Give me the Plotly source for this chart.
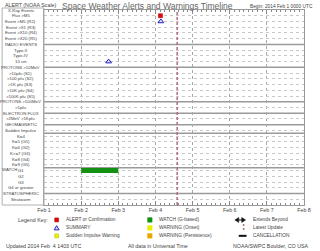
import plotly.graph_objects as go

# ---------------- data ----------------
ROW_LABELS = [
    "X-Ray Events", "Flux >M5", "Event >M5 (R2)", "Event >X1 (R3)", "Event >X10 (R4)",
    "Event >X20 (R5)", "RADIO EVENTS", "Type-II", "Type-IV", "10 cm",
    "PROTONS >10MeV", ">10pfu (S1)", ">100 pfu (S2)", ">1K pfu (S3)", ">10K pfu (S4)",
    ">100K pfu (S5)", "PROTONS >100MeV", ">1pfu", "ELECTRON FLUX", ">2MeV >1Kpfu",
    "GEOMAGNETIC", "Sudden Impulse", "K=4", "K=5 (G1)", "K=6 (G2)", "K>=7 (G3)",
    "K=8 (G4)", "K=9 (G5)", "G1", "G2", "G3", "G4 or greater", "STRATOSPHERIC", "Stratwarm",
]
HEADER_ROWS = [0, 6, 10, 16, 18, 20, 32]
SEPARATORS = [6, 10, 16, 18, 20, 21.5, 27.5, 32]
DAY_TICKS = ["2014-02-01", "2014-02-02", "2014-02-03", "2014-02-04",
             "2014-02-05", "2014-02-06", "2014-02-07", "2014-02-08"]

ALERT_TIMES = ["2014-02-04 03:15"]
ALERT_ROWS = [1]
SUMMARY_TIMES = ["2014-02-02 17:45", "2014-02-04 03:30"]
SUMMARY_ROWS = [9, 2]
WATCH_START = ["2014-02-02 00:00"]
WATCH_END = ["2014-02-03 00:00"]
WATCH_ROWS = [28]
LATEST_UPDATE = "2014-02-04 14:03"

# ---------------- geometry helpers ----------------
W, H = 320, 251
ML, MR, MT, MB = 44, 9, 9, 46
PW, PH = W - ML - MR, H - MT - MB


def px(x):
    return (x - ML) / PW


def py(y):
    return (H - MB - y) / PH


FONT = "Liberation Sans"
TXT = "#444444"

fig = go.Figure()

# watch bar
for s, e, r in zip(WATCH_START, WATCH_END, WATCH_ROWS):
    fig.add_trace(go.Scatter(x=[s, e], y=[r, r], mode="lines",
                             line=dict(color="#139113", width=5),
                             hoverinfo="skip", showlegend=False))

fig.add_trace(go.Scatter(x=ALERT_TIMES, y=ALERT_ROWS, mode="markers",
                         marker=dict(symbol="square", size=4, color="#ee0000",
                                     line=dict(color="#990000", width=0.5)),
                         showlegend=False))
fig.add_trace(go.Scatter(x=SUMMARY_TIMES, y=SUMMARY_ROWS, mode="markers",
                         marker=dict(symbol="triangle-up", size=5, color="#dde0ff",
                                     line=dict(color="#2020c0", width=1)),
                         showlegend=False))

shapes = []
# separators
for r in SEPARATORS:
    shapes.append(dict(type="line", xref="paper", yref="y", x0=0, x1=1, y0=r, y1=r,
                       line=dict(color="#9a9a9a", width=1.5), layer="below"))
# latest update line
shapes.append(dict(type="line", xref="x", yref="paper", x0=LATEST_UPDATE, x1=LATEST_UPDATE,
                   y0=0, y1=1, line=dict(color="#b06c78", width=1.5, dash="3px,2px")))
# left panel frame
shapes.append(dict(type="rect", xref="paper", yref="paper", x0=px(1), x1=0,
                   y0=0, y1=py(7), line=dict(color="#b0b0b0", width=1)))

# legend shapes
def sq(cx, cy, col, s=2.3, lc=None):
    shapes.append(dict(type="rect", xref="paper", yref="paper",
                       x0=px(cx - s), x1=px(cx + s), y0=py(cy + s), y1=py(cy - s),
                       fillcolor=col, line=dict(color=lc or col, width=0.5)))


sq(57, 220, "#ee0000", 2, "#990000")
sq(57, 236, "#eeee00", 2, "#bbbb00")
sq(152.7, 220, "#139113")
sq(152.7, 228, "#eeee00")
sq(152.7, 236, "#e8a800")
# summary triangle in legend
shapes.append(dict(type="path", xref="paper", yref="paper",
                   path=f"M {px(54.5)} {py(230)} L {px(59.5)} {py(230)} L {px(57)} {py(225.8)} Z",
                   fillcolor="#dde0ff", line=dict(color="#2020c0", width=1)))
# extends beyond arrows
shapes.append(dict(type="path", xref="paper", yref="paper",
                   path=f"M {px(240)} {py(220)} L {px(244)} {py(217.5)} L {px(244)} {py(222.5)} Z",
                   fillcolor="#111", line=dict(color="#111", width=0.5)))
shapes.append(dict(type="path", xref="paper", yref="paper",
                   path=f"M {px(251)} {py(220)} L {px(247)} {py(217.5)} L {px(247)} {py(222.5)} Z",
                   fillcolor="#111", line=dict(color="#111", width=0.5)))
shapes.append(dict(type="line", xref="paper", yref="paper", x0=px(244), x1=px(247),
                   y0=py(220), y1=py(220), line=dict(color="#111", width=1)))
# latest update legend
shapes.append(dict(type="line", xref="paper", yref="paper", x0=px(249), x1=px(249),
                   y0=py(224), y1=py(232), line=dict(color="#b06c78", width=1.5, dash="2px,2px")))
# cancellation
shapes.append(dict(type="line", xref="paper", yref="paper", x0=px(244), x1=px(252),
                   y0=py(236), y1=py(236), line=dict(color="#111", width=2)))

ann = []
for i, lab in enumerate(ROW_LABELS):
    ann.append(dict(text=lab, xref="paper", yref="y", x=px(20), y=i, xanchor="center",
                    yanchor="middle", showarrow=False, font=dict(family=FONT, size=4.3, color=TXT)))
ann.append(dict(text="WATCH", xref="paper", yref="y", x=px(8.5), y=27.8, xanchor="center",
                yanchor="middle", showarrow=False, font=dict(family=FONT, size=4.3, color=TXT)))


def txt(t, x, y, size=5, anchor="left", color=TXT):
    ann.append(dict(text=t, xref="paper", yref="paper", x=px(x), y=py(y), xanchor=anchor,
                    yanchor="middle", showarrow=False, font=dict(family=FONT, size=size, color=color)))


txt("Space Weather Alerts and Warnings Timeline", 150, 5, 8.5, "center", "#666666")
txt("ALERT (NOAA Scale)", 2, 3.5, 5.3)
txt("Begin: 2014 Feb 1 0000 UTC", 253, 5, 4.8)
txt("Legend Key:", 50, 220, 5.3, "right")
txt("ALERT or Confirmation", 65, 220, 4.8)
txt("SUMMARY", 65, 228, 4.8)
txt("Sudden Impulse Warning", 65, 236, 4.8)
txt("WATCH (G-based)", 160, 220, 4.8)
txt("WARNING (Onset)", 160, 228, 4.8)
txt("WARNING (Persistence)", 160, 236, 4.8)
txt("Extends Beyond", 257, 220, 4.8)
txt("Latest Update", 257, 228, 4.8)
txt("CANCELLATION", 257, 236, 4.8)
txt("Updated 2014 Feb  4 1403 UTC", 3, 246, 5.3)
txt("All data in Universal Time", 128, 246, 5.3)
txt("NOAA/SWPC Boulder, CO USA", 236, 246, 5.3)

fig.update_layout(
    width=W, height=H,
    margin=dict(l=ML, r=MR, t=MT, b=MB, pad=0),
    paper_bgcolor="white", plot_bgcolor="white",
    shapes=shapes, annotations=ann,
    xaxis=dict(type="date", range=[DAY_TICKS[0], DAY_TICKS[-1]],
               tickvals=DAY_TICKS, tickformat="%b %-d",
               ticks="inside", ticklen=4, tickcolor="#888", mirror="allticks",
               showline=True, linecolor="#999", linewidth=1,
               showgrid=True, gridcolor="#a8a8a8", griddash="dot", gridwidth=1,
               minor=dict(dtick=3 * 3600 * 1000, ticks="inside", ticklen=2,
                          tickcolor="#888", showgrid=False),
               tickfont=dict(family=FONT, size=5.3, color=TXT), zeroline=False),
    yaxis=dict(range=[34, 0], tickvals=[i for i in range(len(ROW_LABELS)) if i not in HEADER_ROWS],
               showticklabels=False, ticks="", showgrid=True, gridcolor="#c8c8c8",
               griddash="dot", gridwidth=1, showline=True, linecolor="#999", mirror=True,
               zeroline=False),
)

fig.write_html("out.html")
